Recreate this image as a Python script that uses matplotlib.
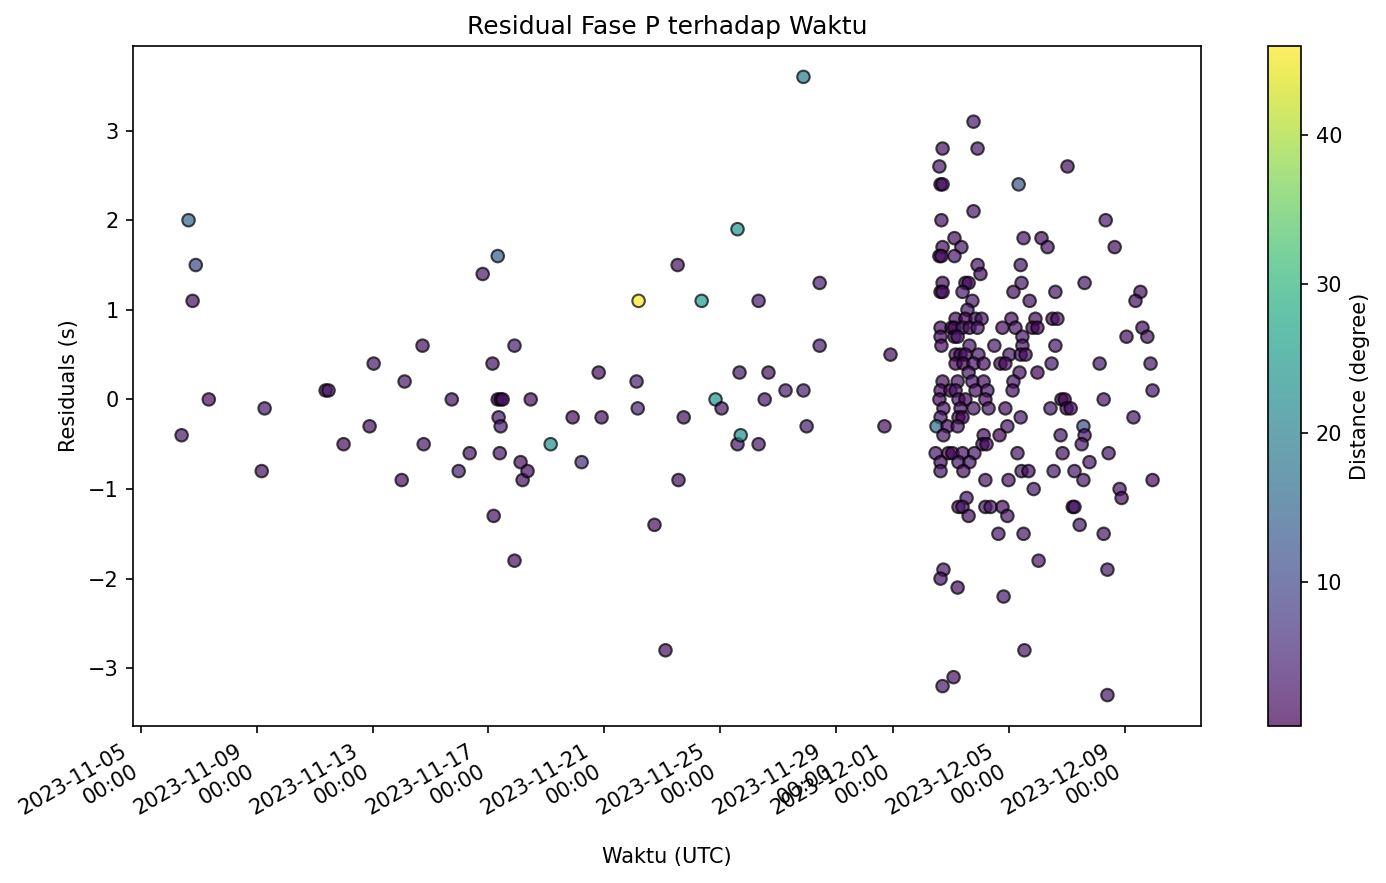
import matplotlib
matplotlib.use("Agg")
import matplotlib.pyplot as plt
import matplotlib.dates as mdates
import pandas as pd

MULAI = pd.Timestamp("2023-11-05")

# hari sejak 2023-11-05 00:00 UTC
hari = [
    1.39, 1.63, 1.88, 1.77, 2.33, 4.16, 4.26, 6.37, 6.47, 6.99,
    7.89, 8.03, 9.00, 9.10, 9.72, 9.76, 10.73, 10.97, 11.35, 11.80,
    12.14, 12.18, 12.32, 12.32, 12.42, 12.49, 12.35, 12.42, 12.39, 12.90,
    12.90, 13.11, 13.18, 13.35, 13.46, 14.15, 14.91, 15.22, 15.81, 15.91,
    17.12, 17.16, 17.19, 17.74, 18.12, 18.54, 18.57, 18.75, 19.37, 19.85,
    20.06, 20.61, 20.61, 20.68, 20.72, 21.34, 21.34, 21.55, 21.68, 22.27,
    22.89, 22.89, 23.00, 23.45, 23.45, 25.69, 25.90,
    # cluster akhir November - Desember
    28.77,
    27.70, 28.91,
    27.59, 32.02,
    27.63, 27.70, 30.33,
    28.77,
    27.66, 33.34,
    28.11, 30.50, 31.12,
    27.70, 28.35, 31.33, 33.65,
    27.59, 27.66, 28.11,
    28.91, 30.40,
    29.01,
    27.70, 28.49, 28.60, 30.43, 32.61,
    27.63, 27.70, 28.39, 30.15, 31.60, 34.54,
    28.73, 30.71, 34.37,
    28.56,
    28.15, 28.49, 28.84, 29.05, 30.08, 30.91, 31.50, 31.67,
    27.63, 28.01, 28.11, 28.39, 28.63, 28.91, 29.77, 30.22, 30.81, 30.98, 34.61,
    27.63, 28.11, 28.22, 30.46, 34.06, 34.78,
    27.66, 28.63, 29.49, 30.46, 31.60,
    28.15, 28.32, 28.49, 28.94, 30.01, 30.40, 30.57,
    28.15, 28.42, 28.77, 29.12, 29.70, 29.87, 31.47, 33.13, 34.89,
    28.60, 30.36, 30.98,
    27.70, 28.22, 28.73, 29.12, 30.15,
    27.63, 27.97, 28.15, 28.84, 29.25, 30.12, 34.96,
    27.59, 28.25, 28.49, 29.18, 31.81, 31.92, 33.27,
    27.73, 28.32, 28.77, 29.29, 29.87, 31.43, 31.99, 32.13,
    27.63, 28.25, 28.39, 30.40, 34.30,
    27.49, 27.87, 28.22, 29.94, 32.57,
    27.73, 29.12, 29.67, 31.78, 32.61,
    29.08, 29.22, 32.51,
    27.46, 27.90, 28.04, 28.39, 28.80, 30.29, 31.85, 33.44,
    27.63, 28.25, 28.63, 32.78,
    27.63, 28.42, 30.43, 30.67, 31.54, 32.26,
    29.18, 29.98, 32.57, 34.96,
    30.85, 33.82,
    28.53, 33.89,
    28.25, 28.39, 29.18, 29.36, 29.77, 32.20, 32.26,
    28.60, 29.94,
    32.44,
    29.63, 30.50, 33.27,
    31.02,
    27.73, 33.40,
    27.63,
    28.22,
    29.81,
    30.53,
    28.08,
    27.70,
    33.40,
]

residual = [
    -0.4, 2.0, 1.5, 1.1, 0.0, -0.8, -0.1, 0.1, 0.1, -0.5,
    -0.3, 0.4, -0.9, 0.2, 0.6, -0.5, 0.0, -0.8, -0.6, 1.4,
    0.4, -1.3, 1.6, 0.0, 0.0, 0.0, -0.2, -0.3, -0.6, -1.8,
    0.6, -0.7, -0.9, -0.8, 0.0, -0.5, -0.2, -0.7, 0.3, -0.2,
    0.2, -0.1, 1.1, -1.4, -2.8, 1.5, -0.9, -0.2, 1.1, 0.0,
    -0.1, 1.9, -0.5, 0.3, -0.4, 1.1, -0.5, 0.0, 0.3, 0.1,
    3.6, 0.1, -0.3, 1.3, 0.6, -0.3, 0.5,
    3.1,
    2.8, 2.8,
    2.6, 2.6,
    2.4, 2.4, 2.4,
    2.1,
    2.0, 2.0,
    1.8, 1.8, 1.8,
    1.7, 1.7, 1.7, 1.7,
    1.6, 1.6, 1.6,
    1.5, 1.5,
    1.4,
    1.3, 1.3, 1.3, 1.3, 1.3,
    1.2, 1.2, 1.2, 1.2, 1.2, 1.2,
    1.1, 1.1, 1.1,
    1.0,
    0.9, 0.9, 0.9, 0.9, 0.9, 0.9, 0.9, 0.9,
    0.8, 0.8, 0.8, 0.8, 0.8, 0.8, 0.8, 0.8, 0.8, 0.8, 0.8,
    0.7, 0.7, 0.7, 0.7, 0.7, 0.7,
    0.6, 0.6, 0.6, 0.6, 0.6,
    0.5, 0.5, 0.5, 0.5, 0.5, 0.5, 0.5,
    0.4, 0.4, 0.4, 0.4, 0.4, 0.4, 0.4, 0.4, 0.4,
    0.3, 0.3, 0.3,
    0.2, 0.2, 0.2, 0.2, 0.2,
    0.1, 0.1, 0.1, 0.1, 0.1, 0.1, 0.1,
    0.0, 0.0, 0.0, 0.0, 0.0, 0.0, 0.0,
    -0.1, -0.1, -0.1, -0.1, -0.1, -0.1, -0.1, -0.1,
    -0.2, -0.2, -0.2, -0.2, -0.2,
    -0.3, -0.3, -0.3, -0.3, -0.3,
    -0.4, -0.4, -0.4, -0.4, -0.4,
    -0.5, -0.5, -0.5,
    -0.6, -0.6, -0.6, -0.6, -0.6, -0.6, -0.6, -0.6,
    -0.7, -0.7, -0.7, -0.7,
    -0.8, -0.8, -0.8, -0.8, -0.8, -0.8,
    -0.9, -0.9, -0.9, -0.9,
    -1.0, -1.0,
    -1.1, -1.1,
    -1.2, -1.2, -1.2, -1.2, -1.2, -1.2, -1.2,
    -1.3, -1.3,
    -1.4,
    -1.5, -1.5, -1.5,
    -1.8,
    -1.9, -1.9,
    -2.0,
    -2.1,
    -2.2,
    -2.8,
    -3.1,
    -3.2,
    -3.3,
]

# jarak episentral (derajat)
jarak = [
    3, 15, 10, 2, 2, 2, 3, 2, 3, 2,
    2, 3, 2, 3, 2, 3, 2, 4, 3, 3,
    2, 2, 13, 2, 1, 2, 3, 4, 3, 2,
    4, 2, 2, 2, 2, 23, 2, 6, 2, 2,
    4, 5, 46, 2, 2, 2, 2, 2, 25, 24,
    3, 24, 3, 3, 23, 4, 3, 3, 2, 4,
    19, 4, 4, 4, 4, 2, 2,
    3,
    2, 3,
    3, 2,
    1, 2, 12,
    3,
    2, 3,
    2, 3, 2,
    2, 3, 3, 2,
    1, 2, 3,
    3, 3,
    2,
    2, 3, 1, 3, 3,
    1, 2, 3, 2, 3, 2,
    3, 2, 2,
    3,
    2, 1, 2, 3, 2, 2, 1, 3,
    2, 1, 1, 3, 2, 3, 2, 3, 1, 1, 2,
    2, 1, 3, 3, 2, 3,
    2, 3, 3, 3, 3,
    2, 1, 2, 3, 3, 2, 2,
    1, 1, 3, 2, 0.3, 2, 3, 3, 3,
    3, 2, 1,
    2, 3, 3, 2, 3,
    2, 1, 3, 2, 3, 2, 3,
    2, 3, 1, 2, 1, 1, 3,
    3, 2, 3, 3, 2, 3, 2, 2,
    3, 2, 1, 3, 3,
    16, 2, 3, 3, 11,
    3, 2, 1, 3, 3,
    1, 2, 3,
    3, 1, 1, 2, 3, 3, 2, 3,
    2, 3, 3, 3,
    3, 2, 3, 2, 3, 3,
    3, 3, 3, 2,
    3, 3,
    3, 2,
    2, 3, 3, 3, 2, 1, 3,
    2, 3,
    3,
    3, 3, 3,
    3,
    3, 3,
    2,
    2,
    3,
    3,
    2,
    3,
    3,
]

waktu = (MULAI + pd.to_timedelta(hari, unit="D")).to_pydatetime()

fig = plt.figure(figsize=(9.24, 5.887), dpi=150)
ax = fig.add_axes([0.0960, 0.1778, 0.7706, 0.7701])
cax = fig.add_axes([0.9149, 0.1778, 0.0238, 0.7701])

sc = ax.scatter(waktu, residual, c=jarak, cmap="viridis", alpha=0.7,
                edgecolors="k", s=36)
cb = fig.colorbar(sc, cax=cax)
cb.set_label("Distance (degree)")

ax.set_title("Residual Fase P terhadap Waktu")
ax.set_xlabel("Waktu (UTC)")
ax.set_ylabel("Residuals (s)")
ax.xaxis.set_major_formatter(mdates.DateFormatter("%Y-%m-%d\n%H:%M"))
for lbl in ax.get_xticklabels():
    lbl.set_rotation(30)
    lbl.set_horizontalalignment("right")

fig.savefig("out.png", dpi=150)
